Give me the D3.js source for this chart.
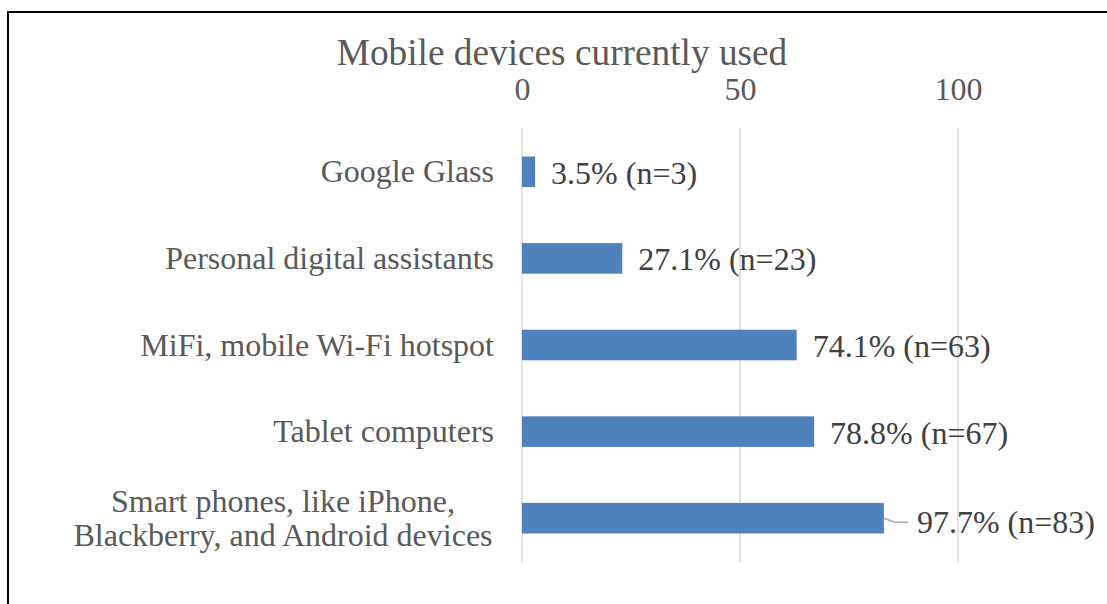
<!DOCTYPE html>
<html>
<head>
<meta charset="utf-8">
<script src="https://cdn.jsdelivr.net/npm/d3@7/dist/d3.min.js"></script>
<style>
  html, body { margin: 0; padding: 0; background: #fff; }
  svg { display: block; }
  text { font-family: "Liberation Serif", "Times New Roman", serif; }
</style>
</head>
<body>
<svg id="chart" width="1107" height="604"></svg>
<script>
const title = "Mobile devices currently used";
const categories = [
  ["Google Glass"],
  ["Personal digital assistants"],
  ["MiFi, mobile Wi-Fi hotspot"],
  ["Tablet computers"],
  ["Smart phones, like iPhone,", "Blackberry, and Android devices"]
];
const counts = [3, 23, 63, 67, 83];
const percents = ["3.5%", "27.1%", "74.1%", "78.8%", "97.7%"];
const tickValues = [0, 50, 100];

const svg = d3.select("#chart");

// outer border
svg.append("rect")
  .attr("x", 8).attr("y", 12)
  .attr("width", 1200).attr("height", 700)
  .attr("fill", "none").attr("stroke", "#000").attr("stroke-width", 2);

const x = d3.scaleLinear().domain([0, 100]).range([522, 958]);
const y = d3.scaleBand().domain(d3.range(categories.length)).range([128.5, 561.5]).paddingInner(0.647).paddingOuter(0.3235);

// gridlines
svg.append("g").selectAll("line").data(tickValues).join("line")
  .attr("x1", d => x(d)).attr("x2", d => x(d))
  .attr("y1", 128).attr("y2", 562)
  .attr("stroke", "#d9d9d9").attr("stroke-width", 1.5);

// top axis labels
const axis = d3.axisTop(x).tickValues(tickValues).tickSize(0).tickPadding(0);
const ag = svg.append("g").attr("transform", "translate(0,100)").call(axis);
ag.select(".domain").remove();
ag.selectAll("text")
  .attr("y", 0).attr("dy", 0)
  .attr("font-family", "'Liberation Serif', 'Times New Roman', serif")
  .attr("font-size", 32).attr("fill", "#595959");

// title
svg.append("text")
  .attr("x", 562).attr("y", 65)
  .attr("text-anchor", "middle")
  .attr("font-size", 37.3).attr("fill", "#595959")
  .text(title);

// bars
svg.append("g").selectAll("rect").data(counts).join("rect")
  .attr("x", x(0))
  .attr("y", (d, i) => y(i))
  .attr("width", d => x(d) - x(0))
  .attr("height", y.bandwidth())
  .attr("fill", "#4f81bd");

// category labels
const cl = svg.append("g").selectAll("text").data(categories).join("text")
  .attr("font-size", 32).attr("fill", "#595959")
  .attr("text-anchor", d => d.length > 1 ? "middle" : "end")
  .attr("x", d => d.length > 1 ? 283 : 494)
  .attr("y", (d, i) => y(i) + y.bandwidth() / 2 + 10.5 - (d.length - 1) * 17);
cl.each(function(d) {
  const t = d3.select(this);
  d.forEach((line, k) => {
    t.append("tspan")
      .attr("x", d.length > 1 ? 283 : 494)
      .attr("dy", k === 0 ? 0 : 34)
      .text(line);
  });
});

// data labels
const last = counts.length - 1;
svg.append("g").selectAll("text").data(counts).join("text")
  .attr("font-size", 32).attr("fill", "#404040")
  .attr("x", (d, i) => x(d) + (i === last ? 33 : 16))
  .attr("y", (d, i) => y(i) + y.bandwidth() / 2 + (i === last ? 15 : 12))
  .text((d, i) => percents[i] + " (n=" + d + ")");

// leader line for last label
const cy = y(last) + y.bandwidth() / 2;
svg.append("path")
  .attr("d", `M${x(counts[last])},${cy} L${x(counts[last]) + 11},${cy + 4} L${x(counts[last]) + 24},${cy + 4}`)
  .attr("fill", "none").attr("stroke", "#a6a6a6").attr("stroke-width", 1.5);
</script>
</body>
</html>
